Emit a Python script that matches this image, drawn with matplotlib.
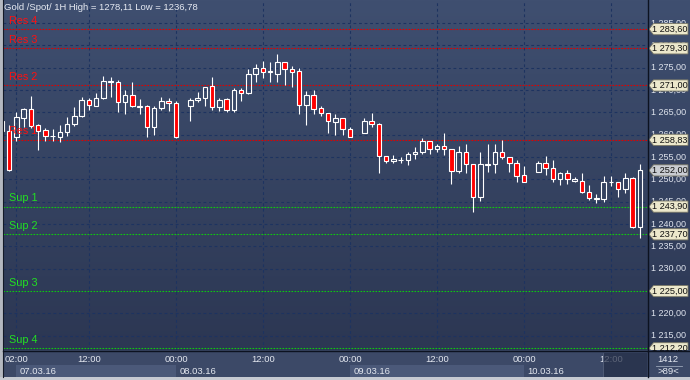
import numpy as np
import matplotlib
matplotlib.use("Agg")
import matplotlib.pyplot as plt
from matplotlib.patches import Rectangle, Polygon
from matplotlib.colors import LinearSegmentedColormap

plt.rcParams['font.family'] = ['Liberation Sans', 'DejaVu Sans']

# hourly candles, hour 0 = 07.03.16 00:00 (gaps at the daily break)
hours = [0, 1, 2, 3, 4, 5, 6, 7, 8, 9, 10, 11, 12, 13, 14, 15, 16, 17, 18, 19, 20, 21, 22, 23, 24,
         26, 27, 28, 29, 30, 31, 32, 33, 34, 35, 36, 37, 38, 39, 40, 41, 42, 43, 44, 45, 46, 47, 48,
         50, 51, 52, 53, 54, 55, 56, 57, 58, 59, 60, 61, 62, 63, 64, 65, 66, 67, 68, 69, 70, 71, 72,
         74, 75, 76, 77, 78, 79, 80, 81, 82, 83, 84, 85, 86, 87, 88]
opens = [1260.8, 1260.8, 1259.5, 1263.7, 1265.7, 1262.1, 1261.0, 1259.6, 1259.4, 1260.6, 1262.4, 1264.1,
         1267.7, 1266.5, 1268.3, 1271.7, 1271.7, 1267.2, 1268.9, 1266.2, 1266.4, 1261.6, 1265.9, 1267.6,
         1267.0,
         1266.3, 1267.7, 1268.1, 1270.8, 1266.1, 1267.9, 1265.4, 1270.0, 1269.4, 1273.5, 1274.8, 1274.0,
         1273.6, 1276.2, 1274.7, 1274.2, 1266.6, 1268.9, 1265.9, 1264.8, 1262.9, 1263.7, 1261.2,
         1260.4, 1263.1, 1262.3, 1255.3, 1254.2, 1254.3, 1254.3, 1255.7, 1256.1, 1258.6, 1256.7, 1257.5,
         1256.7, 1251.9, 1256.1, 1253.4, 1246.1, 1253.3, 1253.4, 1256.1, 1254.9, 1253.6, 1251.0,
         1251.7, 1253.6, 1252.5, 1250.0, 1251.4, 1249.7, 1249.7, 1247.2, 1245.5, 1245.5, 1249.3, 1249.5,
         1247.8, 1250.2, 1239.4]
highs = [1263.5, 1262.2, 1265.1, 1266.0, 1268.6, 1262.4, 1261.5, 1261.3, 1262.1, 1263.9, 1266.2, 1268.4,
         1268.3, 1269.3, 1273.2, 1273.0, 1272.2, 1270.0, 1271.7, 1268.0, 1266.6, 1266.4, 1268.5, 1268.2,
         1267.6,
         1268.2, 1269.6, 1270.7, 1272.9, 1268.2, 1268.1, 1270.5, 1270.4, 1274.7, 1275.7, 1276.5, 1276.3,
         1278.1, 1276.2, 1275.4, 1274.8, 1269.8, 1270.0, 1266.5, 1264.8, 1264.6, 1263.7, 1261.6,
         1263.7, 1264.8, 1262.5, 1255.3, 1255.5, 1254.9, 1256.2, 1257.2, 1259.2, 1258.6, 1257.9, 1260.4,
         1256.7, 1257.5, 1257.9, 1253.4, 1256.2, 1257.9, 1257.9, 1258.8, 1254.9, 1254.3, 1253.0,
         1254.0, 1255.2, 1254.3, 1251.7, 1252.1, 1250.5, 1251.5, 1248.7, 1246.7, 1250.8, 1250.8, 1249.5,
         1251.4, 1250.5, 1253.4]
lows = [1260.4, 1251.9, 1258.6, 1261.7, 1261.5, 1256.5, 1258.5, 1258.5, 1258.4, 1259.8, 1262.0, 1263.9,
        1265.5, 1266.4, 1268.0, 1268.5, 1265.1, 1264.6, 1266.1, 1264.6, 1259.4, 1259.9, 1265.5, 1265.3,
        1259.3,
        1263.1, 1267.3, 1266.3, 1265.5, 1265.3, 1265.1, 1265.1, 1267.5, 1269.1, 1271.8, 1272.6, 1271.8,
        1271.8, 1271.1, 1270.7, 1264.6, 1262.2, 1264.6, 1264.2, 1260.4, 1259.9, 1259.9, 1259.4,
        1260.3, 1261.8, 1251.5, 1253.7, 1253.7, 1253.7, 1253.2, 1254.6, 1255.7, 1255.7, 1256.2, 1255.5,
        1249.0, 1251.5, 1251.5, 1242.8, 1245.2, 1251.7, 1251.5, 1254.5, 1251.7, 1249.5, 1249.5,
        1251.7, 1251.0, 1249.3, 1248.7, 1249.0, 1249.3, 1247.0, 1245.4, 1244.8, 1245.0, 1248.4, 1246.1,
        1247.0, 1239.1, 1236.8]
closes = [1263.0, 1252.1, 1264.0, 1265.7, 1261.9, 1260.9, 1259.8, 1259.7, 1260.6, 1262.4, 1264.2, 1267.8,
          1266.6, 1268.1, 1271.9, 1272.0, 1267.2, 1268.9, 1266.4, 1266.3, 1261.6, 1265.9, 1267.6, 1267.0,
          1259.4,
          1267.7, 1268.2, 1270.6, 1266.1, 1267.7, 1265.4, 1270.0, 1269.4, 1273.6, 1274.8, 1274.1, 1274.2,
          1276.2, 1274.6, 1274.1, 1266.6, 1268.9, 1265.7, 1264.8, 1263.0, 1263.7, 1261.2, 1259.4,
          1263.1, 1262.3, 1255.3, 1254.2, 1254.5, 1254.4, 1255.7, 1256.2, 1258.6, 1256.7, 1257.5, 1256.7,
          1251.9, 1256.1, 1253.4, 1246.1, 1253.4, 1253.4, 1256.1, 1254.9, 1253.6, 1250.8, 1249.5,
          1253.6, 1252.5, 1250.0, 1251.4, 1250.0, 1250.0, 1247.2, 1245.8, 1245.8, 1249.3, 1249.5, 1247.8,
          1250.2, 1239.3, 1252.0]

levels = [1283.60, 1279.30, 1271.00, 1258.83, 1243.90, 1237.70, 1225.00, 1212.20]
level_names = ["Res 4", "Res 3", "Res 2", "Res 1", "Sup 1", "Sup 2", "Sup 3", "Sup 4"]
last_price = 1252.00

price_ticks = np.arange(1215, 1290, 5)
time_ticks = [2, 12, 24, 36, 48, 60, 72, 84]
time_labels = ["02:00", "12:00", "00:00", "12:00", "00:00", "12:00", "00:00", "12:00"]
day_starts = [2, 24, 48, 72]
day_labels = ["07.03.16", "08.03.16", "09.03.16", "10.03.16"]
title = "Gold /Spot/ 1H High = 1278,11 Low = 1236,78"

W, H = 690, 380
fig = plt.figure(figsize=(W / 100, H / 100), dpi=100)

# background layer in pixel coordinates
bg = fig.add_axes([0, 0, 1, 1])
bg.set_xlim(0, W)
bg.set_ylim(H, 0)
bg.axis('off')
grad = LinearSegmentedColormap.from_list("bg", ["#3f4f70", "#2c3753"])
bg.imshow(np.linspace(0, 1, 200).reshape(-1, 1), cmap=grad, aspect='auto',
          extent=(0, W, 350, 0), zorder=0)
bg.add_patch(Rectangle((0, 350), W, 30, fc="#3c4967", ec='none', zorder=1))

ylo, yhi = 1211.82, 1290.12
xlo, xhi = 0.14, 88.97

# main price chart
ax = fig.add_axes([3 / W, 30 / H, 644 / W, 350 / H])
ax.set_facecolor('none')
ax.set_xlim(xlo, xhi)
ax.set_ylim(ylo, yhi)
for s in ax.spines.values():
    s.set_visible(False)
ax.set_yticks(price_ticks)
ax.set_xticks(time_ticks)
ax.tick_params(length=0, labelleft=False, labelbottom=False)
ax.grid(True, color="#1d3360", lw=0.8, linestyle=(0, (2.5, 2.5)))

x = np.array(hours, dtype=float)
o = np.array(opens)
hi = np.array(highs)
lo = np.array(lows)
c = np.array(closes)
up = c >= o
btop = np.maximum(o, c)
bbot = np.minimum(o, c)
ax.vlines(x, btop, hi, color='white', lw=0.8, zorder=3)
ax.vlines(x, lo, bbot, color='white', lw=0.8, zorder=3)
ax.bar(x, np.maximum(btop - bbot, 0.05), bottom=bbot, width=0.62,
       color=['none' if u else '#ff0000' for u in up],
       edgecolor='white', linewidth=0.8, zorder=4)

for lev, name in zip(levels, level_names):
    col = '#e00000' if name.startswith('Res') else '#10c810'
    tcol = '#ff1010' if name.startswith('Res') else '#22e022'
    ax.axhline(lev, color=col, lw=0.8, linestyle=(0, (1.5, 1.2)), zorder=2)
    ax.annotate(name, xy=(0, lev), xycoords=('axes fraction', 'data'),
                xytext=(4.3, 2.5), textcoords='offset points',
                color=tcol, fontsize=7.8, ha='left', va='bottom', zorder=5)

# right price scale
rp = fig.add_axes([647 / W, 30 / H, 43 / W, 350 / H])
rp.set_facecolor('none')
rp.set_xlim(0, 43)
rp.set_ylim(ylo, yhi)
rp.axis('off')


def fmt(v):
    return f"{v:,.2f}".replace(",", " ").replace(".", ",")


for v in price_ticks:
    rp.text(4, v, fmt(v), ha='left', va='center', fontsize=6.5, color='#dfe4ee')
for v in levels + [last_price]:
    fc = '#c9ccd2' if v == last_price else '#ece8cc'
    rp.add_patch(Polygon([(2, v), (6.5, v + 1.25), (41, v + 1.25), (41, v - 1.25), (6.5, v - 1.25)],
                         closed=True, fc=fc, ec='#7a7866', lw=0.6, zorder=4))
    rp.text(4.5, v, fmt(v), ha='left', va='center', fontsize=6.6, color='#101010', zorder=5)

# time scale
tp = fig.add_axes([3 / W, 3 / H, 644 / W, 27 / H])
tp.set_facecolor('none')
tp.set_xlim(xlo, xhi)
tp.set_ylim(27, 0)
tp.axis('off')
ends = day_starts[1:] + [xhi]
for i, (d0, d1, lab) in enumerate(zip(day_starts, ends, day_labels)):
    if i % 2 == 0:
        tp.add_patch(Rectangle((d0, 15), d1 - d0, 12, fc='#4b5979', ec='none'))
    tp.text(d0 + 0.5, 21.3, lab, ha='left', va='center', fontsize=6.8, color='#e4e8f0')
for t, lab in zip(time_ticks, time_labels):
    tp.text(t, 10, lab, ha='center', va='center', fontsize=6.8, color='#e4e8f0')
tp.add_patch(Rectangle((82.9, 3), xhi - 82.9, 24, fc='#232d45', ec='none', alpha=0.7, zorder=5))
tp.axvline(82.9, ymin=0, ymax=24 / 27, color='#56627c', lw=0.6, zorder=6)

# frame lines and captions on top
ov = fig.add_axes([0, 0, 1, 1])
ov.set_xlim(0, W)
ov.set_ylim(H, 0)
ov.axis('off')
ov.add_patch(Rectangle((0, 0), 2.7, H, fc='#b4b8c0', ec='none'))
ov.add_patch(Rectangle((0, 377), W, 3, fc='#c6cad2', ec='none'))
ov.plot([2.7, 2.7], [0, 377], color='#141a28', lw=0.8)
ov.plot([647.5, 647.5], [0, 377], color='#0c1220', lw=1.0)
ov.plot([2.7, W], [350.8, 350.8], color='#0c1220', lw=1.0)
ov.text(4, 8, title, ha='left', va='center', fontsize=6.8, color='#e6eaf2')
ov.text(668, 359, "1412", ha='center', va='center', fontsize=6.8, color='#e6eaf2')
ov.plot([656, 682], [365.5, 365.5], color='#9aa4b8', lw=0.6)
ov.text(668, 371.5, ">89<", ha='center', va='center', fontsize=6.8, color='#e6eaf2')

fig.savefig("out.png", dpi=100)
